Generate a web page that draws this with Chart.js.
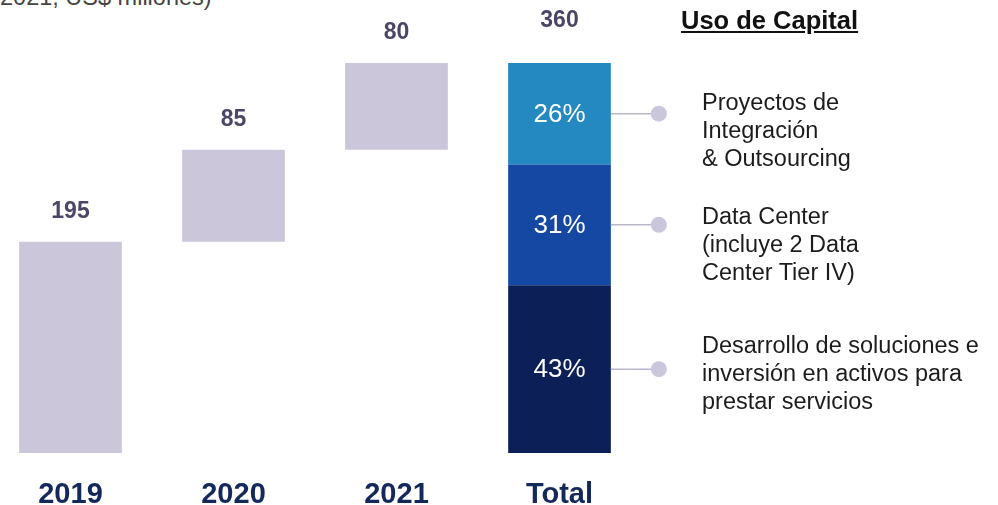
<!DOCTYPE html>
<html>
<head>
<meta charset="utf-8">
<script src="https://cdn.jsdelivr.net/npm/chart.js@4.4.1/dist/chart.umd.min.js"></script>
<style>
  body { margin:0; background:#fff; width:998px; height:505px; overflow:hidden; position:relative;
         font-family:"Liberation Sans", Arial, sans-serif; }
  #wrap { position:absolute; left:-11px; top:0; width:1009px; height:536px; }
  .note { position:absolute; left:0; top:-16px; font-size:23.5px; color:#444; white-space:nowrap; }
  .title { position:absolute; left:681px; top:6px; font-size:25.5px; font-weight:bold; color:#111;
           text-decoration:underline; }
  .desc { position:absolute; left:702px; font-size:23.5px; line-height:28px; color:#1c1c1c; white-space:nowrap; }
</style>
</head>
<body>
<div class="note">2021, US$ millones)</div>
<div id="wrap"><canvas id="chart"></canvas></div>
<div class="title">Uso de Capital</div>
<div class="desc" style="top:88px">Proyectos de<br>Integración<br>&amp; Outsourcing</div>
<div class="desc" style="top:202px">Data Center<br>(incluye 2 Data<br>Center Tier IV)</div>
<div class="desc" style="top:331px">Desarrollo de soluciones e<br>inversión en activos para<br>prestar servicios</div>

<script>
// ---------------- Data ----------------
const categories = ["2019", "2020", "2021", "Total"];
const yearly = [195, 85, 80];
const total = 360;
const shareLabels = ["Desarrollo", "Data Center", "Proyectos"];   // bottom -> top
const shares = [43, 31, 26];
const shareColors = ["#0c1f57", "#1548a3", "#2389c0"];

// ---------------- Build datasets ----------------
let running = 0;
const stepData = yearly.map(v => {
    const r = [running, running + v];
    running += v;
    return r;
});
stepData.push(null);

const datasets = [{
    label: "Inversión anual",
    data: stepData,
    backgroundColor: "#cbc6da"
}];

let base = 0;
shares.forEach((s, i) => {
    const v = total * s / 100;
    const d = categories.map(() => null);
    d[3] = [base, base + v];
    base += v;
    datasets.push({
        label: shareLabels[i],
        data: d,
        backgroundColor: shareColors[i],
        share: s
    });
});

// ---------------- Labels plugin ----------------
const labelsPlugin = {
    id: "labels",
    afterDatasetsDraw(chart) {
        const ctx = chart.ctx;
        ctx.save();
        ctx.textAlign = "center";
        ctx.textBaseline = "middle";

        // values above yearly bars
        ctx.fillStyle = "#4c4566";
        ctx.font = "bold 23px 'Liberation Sans', Arial, sans-serif";
        chart.getDatasetMeta(0).data.forEach((bar, i) => {
            if (i < yearly.length) ctx.fillText(String(yearly[i]), bar.x, bar.y - 30);
        });

        // total value
        const lastMeta = chart.getDatasetMeta(datasets.length - 1);
        const topBar = lastMeta.data[3];
        ctx.fillText(String(total), topBar.x, topBar.y - 42);

        // segment percentages + connectors
        for (let k = 1; k < datasets.length; k++) {
            const bar = chart.getDatasetMeta(k).data[3];
            const cy = (bar.y + bar.base) / 2;
            ctx.fillStyle = "#ffffff";
            ctx.font = "26px 'Liberation Sans', Arial, sans-serif";
            ctx.fillText(datasets[k].share + "%", bar.x, cy + 1);

            const x0 = bar.x + bar.width / 2;
            const x1 = x0 + 48;
            ctx.strokeStyle = "#b9b6cc";
            ctx.lineWidth = 1.5;
            ctx.beginPath();
            ctx.moveTo(x0, cy);
            ctx.lineTo(x1, cy);
            ctx.stroke();
            ctx.fillStyle = "#cac7dd";
            ctx.beginPath();
            ctx.arc(x1, cy, 8, 0, Math.PI * 2);
            ctx.fill();
        }
        ctx.restore();
    }
};

// ---------------- Chart ----------------
new Chart(document.getElementById("chart"), {
    type: "bar",
    data: { labels: categories, datasets: datasets },
    options: {
        responsive: true,
        maintainAspectRatio: false,
        animation: false,
        layout: { padding: { top: 63, right: 357, left: 0, bottom: 0 } },
        datasets: { bar: { categoryPercentage: 1, barPercentage: 0.63 } },
        plugins: { legend: { display: false }, tooltip: { enabled: false } },
        scales: {
            x: {
                stacked: true,
                grid: { display: false, drawTicks: false },
                border: { display: false },
                ticks: {
                    color: "#15285b",
                    padding: 27,
                    font: { family: "'Liberation Sans', Arial, sans-serif", size: 29, weight: "bold", lineHeight: 1 }
                }
            },
            y: {
                display: false,
                min: 0,
                max: total
            }
        }
    },
    plugins: [labelsPlugin]
});
</script>
</body>
</html>
